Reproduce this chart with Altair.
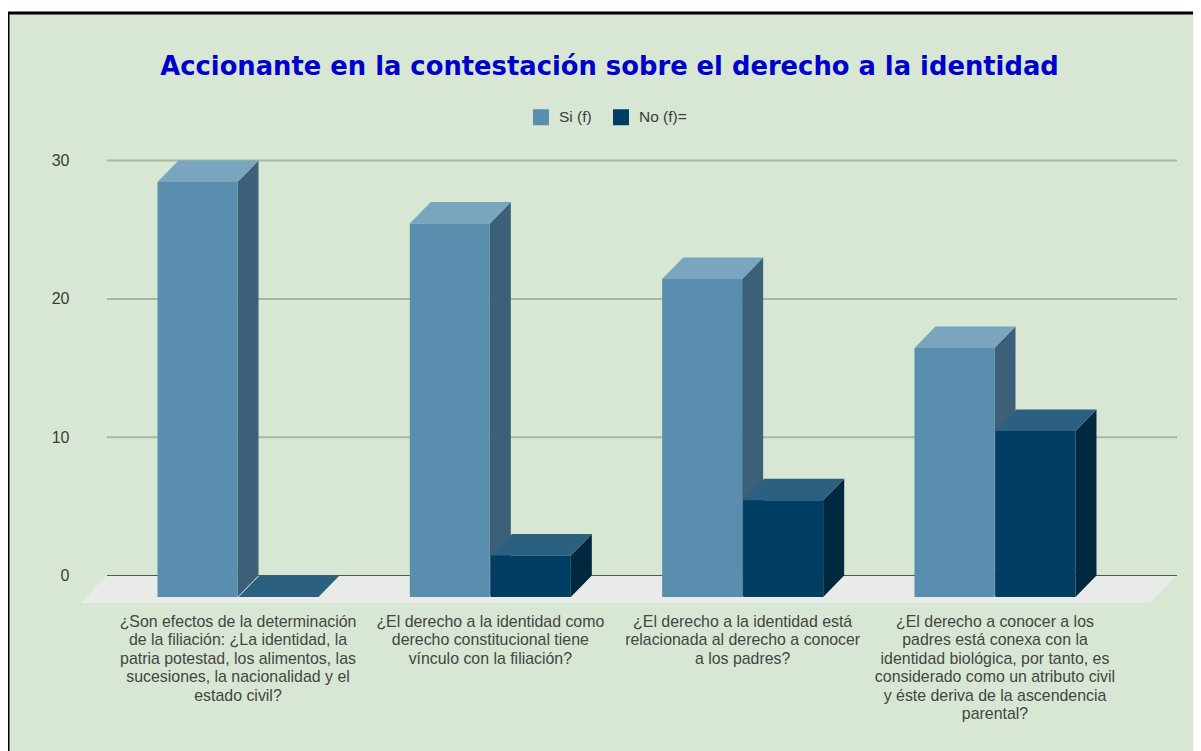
import altair as alt
import pandas as pd

categories = [
    "¿Son efectos de la determinación\nde la filiación: ¿La identidad, la\npatria potestad, los alimentos, las\nsucesiones, la nacionalidad y el\nestado civil?",
    "¿El derecho a la identidad como\nderecho constitucional tiene\nvínculo con la filiación?",
    "¿El derecho a la identidad está\nrelacionada al derecho a conocer\na los padres?",
    "¿El derecho a conocer a los\npadres está conexa con la\nidentidad biológica, por tanto, es\nconsiderado como un atributo civil\ny éste deriva de la ascendencia\nparental?",
]
si_values = [30, 27, 23, 18]
no_values = [0, 3, 7, 12]
series_names = ["Si (f)", "No (f)="]
y_ticks = [0, 10, 20, 30]
title_text = "Accionante en la contestación sobre el derecho a la identidad"

BG = "#d7e7d3"
FRONT = {"Si (f)": "#5a8eae", "No (f)=": "#003f63"}
TOP = {"Si (f)": "#79a5bf", "No (f)=": "#2c6080"}
SIDE = {"Si (f)": "#3b6078", "No (f)=": "#00293f"}

W, H = 1185, 738
PX_X = 252.33          # pixels per category
PX_Y = 13.83           # pixels per unit
X0 = (8 - 238) / PX_X  # domain start: first category centre lands on its place
Y_TOP = (575.5 - 13) / PX_Y
Y_BOT = Y_TOP - H / PX_Y
DX = 21 / PX_X         # bar depth in category units
DY = 21.5 / PX_Y       # bar depth in value units
BAR = 80 / PX_X
GAP = 0.5 / PX_X
FL_DX = 27 / PX_X
FL_DY = 27.5 / PX_Y

x_scale = alt.Scale(domain=[X0, X0 + W / PX_X], range=[0, W], nice=False, zero=False)
y_scale = alt.Scale(domain=[Y_BOT, Y_TOP], range=[H, 0], nice=False, zero=False)
X = alt.X("x:Q", scale=x_scale, axis=None)
Y = alt.Y(
    "y:Q",
    scale=y_scale,
    title=None,
    axis=alt.Axis(
        values=y_ticks,
        domain=False,
        ticks=False,
        grid=False,
        offset=-62,
        labelPadding=1,
        labelFont="Liberation Sans",
        labelFontSize=16,
        labelColor="#3c3c3c",
    ),
)

front, side, top = [], [], []
for s_i, (name, vals) in enumerate(zip(series_names, [si_values, no_values])):
    for i, v in enumerate(vals):
        l = i - BAR - GAP if s_i == 0 else i + GAP
        r = l + BAR
        fv, fb = v - DY, -DY
        front.append(dict(series=name, x=l, x2=r, y=fv, y2=fb))
        side += [
            dict(series=name, k=i, x=r, y=fv, y2=fb, f=SIDE[name]),
            dict(series=name, k=i, x=r + DX, y=v, y2=0, f=SIDE[name]),
        ]
        top += [
            dict(series=name, k=i, x=l, y=fv, y2=fv, f=TOP[name]),
            dict(series=name, k=i, x=l + DX, y=v, y2=fv, f=TOP[name]),
            dict(series=name, k=i, x=r, y=v, y2=fv, f=TOP[name]),
            dict(series=name, k=i, x=r + DX, y=v, y2=v, f=TOP[name]),
        ]
front, side, top = pd.DataFrame(front), pd.DataFrame(side), pd.DataFrame(top)


def face(df, name):
    return (
        alt.Chart(df[df.series == name])
        .mark_area(opacity=1, line=False)
        .encode(x=X, y=Y, y2="y2:Q", detail="k:N", fill=alt.Fill("f:N", scale=None))
    )


color = alt.Color(
    "series:N",
    scale=alt.Scale(domain=series_names, range=[FRONT[n] for n in series_names]),
    legend=alt.Legend(
        title=None,
        orient="none",
        legendX=525,
        legendY=96,
        direction="horizontal",
        columns=2,
        symbolType="square",
        symbolSize=256,
        symbolStrokeWidth=0,
        symbolOpacity=1,
        labelFont="Liberation Sans",
        labelFontSize=15.5,
        labelColor="#3c3c3c",
        labelOffset=10,
        columnPadding=21,
    ),
)


def front_layer(name):
    return (
        alt.Chart(front[front.series == name])
        .mark_rect(opacity=1)
        .encode(x=X, x2="x2:Q", y=Y, y2="y2:Q", color=color)
    )


# Floor
fl_l, fl_r = (80 - 238) / PX_X, (1150 - 238) / PX_X
floor = pd.DataFrame(
    [
        dict(x=fl_l, y=-FL_DY, y2=-FL_DY),
        dict(x=fl_l + FL_DX, y=0, y2=-FL_DY),
        dict(x=fl_r, y=0, y2=-FL_DY),
        dict(x=fl_r + FL_DX, y=0, y2=0),
    ]
)
floor_layer = alt.Chart(floor).mark_area(color="#e9ebe9", opacity=1).encode(x=X, y=Y, y2="y2:Q")

# Back-wall gridlines
grid = pd.DataFrame({"y": y_ticks[1:], "x": fl_l + FL_DX, "x2": fl_r + FL_DX})
grid_layer = (
    alt.Chart(grid).mark_rule(color="#a9b99f", strokeWidth=2).encode(x=X, x2="x2:Q", y=Y)
)
zero = pd.DataFrame({"y": [0], "x": fl_l + FL_DX, "x2": fl_r + FL_DX})
zero_layer = alt.Chart(zero).mark_rule(color="#555555", strokeWidth=1).encode(x=X, x2="x2:Q", y=Y)

# Black frame, top and left only
frame_top = alt.Chart(pd.DataFrame({"a": [0]})).mark_rule(color="black", strokeWidth=3).encode(
    x=alt.value(0), x2=alt.value(W), y=alt.value(0)
)
frame_left = alt.Chart(pd.DataFrame({"a": [0]})).mark_rule(color="black", strokeWidth=3).encode(
    x=alt.value(0), y=alt.value(0), y2=alt.value(H)
)

# Category labels
labels = pd.DataFrame({"x": list(range(4)), "label": categories, "y": (575.5 - 614) / PX_Y})
label_layer = (
    alt.Chart(labels)
    .mark_text(
        font="Liberation Sans",
        fontSize=15.9,
        color="#444444",
        align="center",
        baseline="top",
        lineBreak="\n",
        lineHeight=18.4,
    )
    .encode(x=X, y=Y, text="label:N")
)

layers = [floor_layer, grid_layer, zero_layer]
for n in series_names:
    layers += [face(side, n), face(top, n), front_layer(n)]
layers += [label_layer, frame_top, frame_left]

chart = (
    alt.layer(*layers)
    .properties(
        width=W,
        height=H,
        background="white",
        padding={"left": 0, "top": 5, "right": 0, "bottom": 0},
        autosize=alt.AutoSizeParams(type="none"),
        title=alt.TitleParams(
            text=title_text,
            anchor="middle",
            offset=-69,
            dx=9,
            font="DejaVu Sans",
            fontSize=25.8,
            fontWeight="bold",
            color="#0000cc",
        ),
    )
    .configure_view(fill=BG, stroke=None)
)

chart.save("out.html", embed_options={"renderer": "svg", "actions": False})
